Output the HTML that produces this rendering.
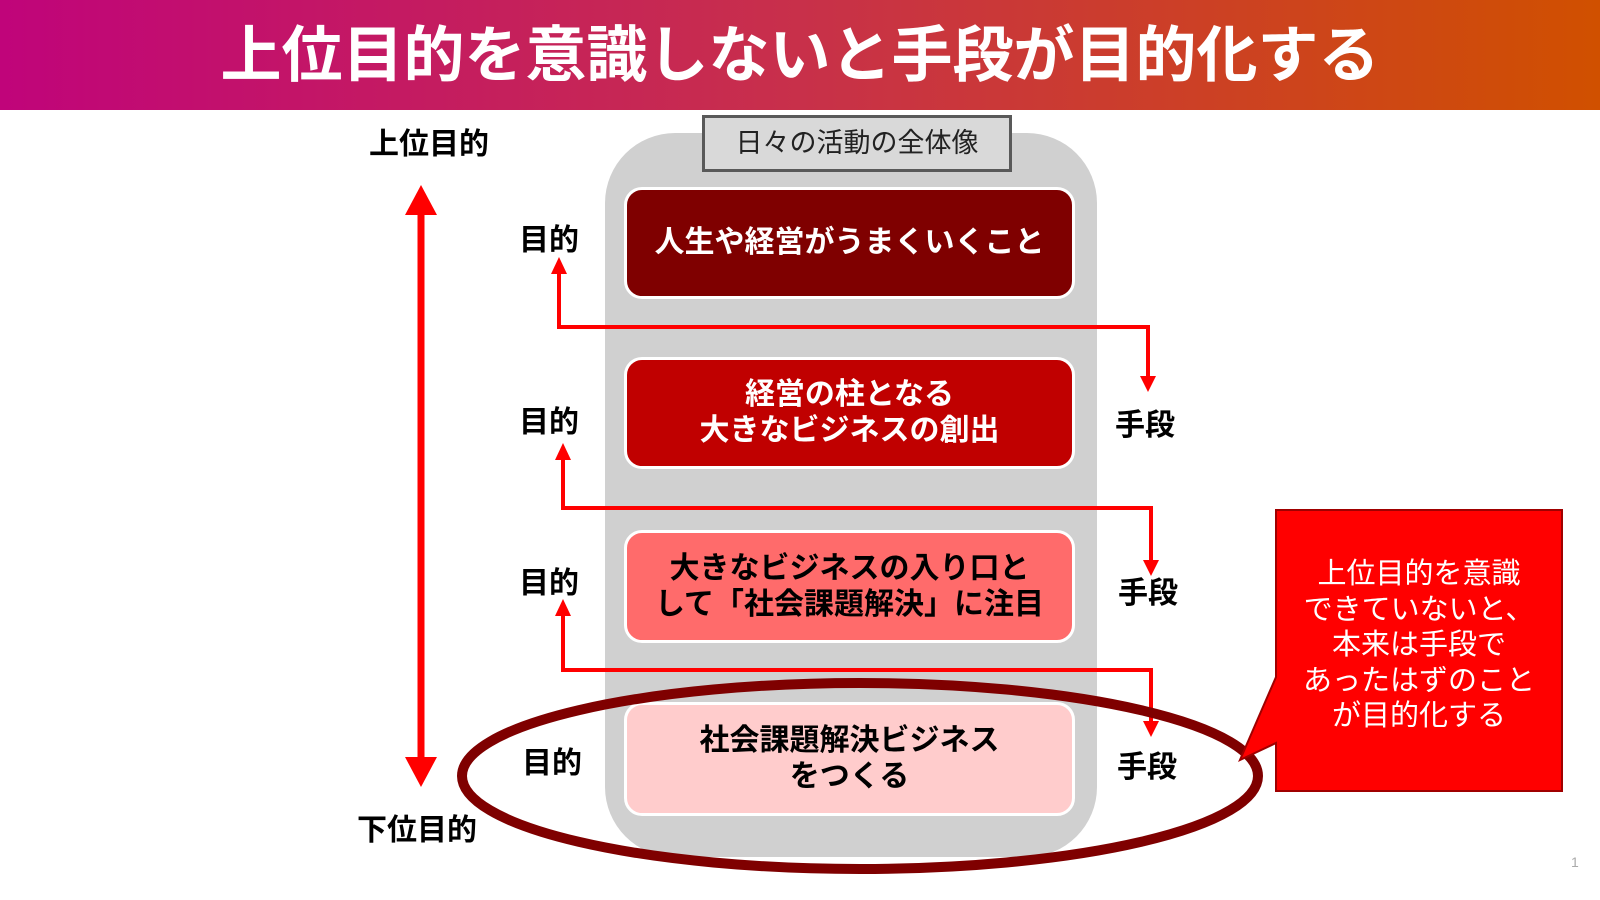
<!DOCTYPE html>
<html><head><meta charset="utf-8"><style>
body{margin:0;width:1600px;height:900px;background:#fff;position:relative;overflow:hidden;font-family:"Liberation Sans","Noto Sans CJK JP",sans-serif}
.abs{position:absolute}
.hdr{left:0;top:0;width:1600px;height:110px;background:linear-gradient(90deg,#c0047a,#c8304a 50%,#d05000)}
.title{left:0;top:0;width:1600px;height:110px;line-height:110px;text-align:center;color:#fff;font-weight:bold;font-size:61px;letter-spacing:0}
.box{left:624px;width:451px;border:3px solid #fff;border-radius:18px;box-sizing:border-box;display:flex;align-items:center;justify-content:center;text-align:center;font-weight:bold;font-size:30px;line-height:36px;color:#fff}
.lbl{font-weight:bold;font-size:30px;color:#000}
</style></head><body>
<div class="abs hdr"></div>
<div class="abs title">上位目的を意識しないと手段が目的化する</div>
<div class="abs" style="left:605px;top:133px;width:492px;height:724px;background:#d0d0d0;border-radius:70px"></div>
<div class="abs" style="left:702px;top:115px;width:310px;height:57px;box-sizing:border-box;background:#d9d9d9;border:3px solid #595959;font-size:27px;line-height:50px;text-align:center;color:#222">日々の活動の全体像</div>
<div class="abs box" style="top:187px;height:112px;background:#7f0000">人生や経営がうまくいくこと</div>
<div class="abs box" style="top:357px;height:112px;background:#c00000">経営の柱となる<br>大きなビジネスの創出</div>
<div class="abs box" style="top:530px;height:113px;background:#ff6b6b;color:#000">大きなビジネスの入り口と<br>して「社会課題解決」に注目</div>
<div class="abs box" style="top:702px;height:114px;background:#ffcccc;color:#000">社会課題解決ビジネス<br>をつくる</div>
<svg class="abs" style="left:0;top:0" width="1600" height="900">
<g fill="none" stroke="#ff0000" stroke-width="4">
<polyline points="559,270 559,327 1148,327 1148,378"/>
<polyline points="563,456 563,508 1151,508 1151,562"/>
<polyline points="563,612 563,670 1151,670 1151,723"/>
<line x1="421" y1="212" x2="421" y2="760" stroke-width="7"/>
</g>
<g fill="#ff0000">
<polygon points="559,257 551,274 567,274"/><polygon points="1148,392 1140,376 1156,376"/>
<polygon points="563,443 555,460 571,460"/><polygon points="1151,576 1143,560 1159,560"/>
<polygon points="563,599 555,616 571,616"/><polygon points="1151,737 1143,721 1159,721"/>
<polygon points="421,185 405,215 437,215"/><polygon points="421,787 405,757 437,757"/>
</g>
<ellipse cx="860" cy="776" rx="398" ry="93" fill="none" stroke="#7f0000" stroke-width="10"/>
<path d="M1276,510 H1562 V791 H1276 V743 L1240,760 L1276,677 Z" fill="#ff0000" stroke="#a00000" stroke-width="2"/>
</svg>
<div class="abs lbl" style="left:369px;top:119px">上位目的</div>
<div class="abs lbl" style="left:357px;top:805px">下位目的</div>
<div class="abs lbl" style="left:519px;top:215px">目的</div>
<div class="abs lbl" style="left:519px;top:397px">目的</div>
<div class="abs lbl" style="left:519px;top:558px">目的</div>
<div class="abs lbl" style="left:522px;top:738px">目的</div>
<div class="abs lbl" style="left:1115px;top:400px">手段</div>
<div class="abs lbl" style="left:1118px;top:568px">手段</div>
<div class="abs lbl" style="left:1117px;top:742px">手段</div>
<div class="abs" style="left:1276px;top:557px;width:286px;text-align:center;color:#fff;font-size:29px;line-height:35.5px">上位目的を意識<br>できていないと、<br>本来は手段で<br>あったはずのこと<br>が目的化する</div>
<div class="abs" style="left:1571px;top:854px;font-size:14px;color:#aaa">1</div>
</body></html>
